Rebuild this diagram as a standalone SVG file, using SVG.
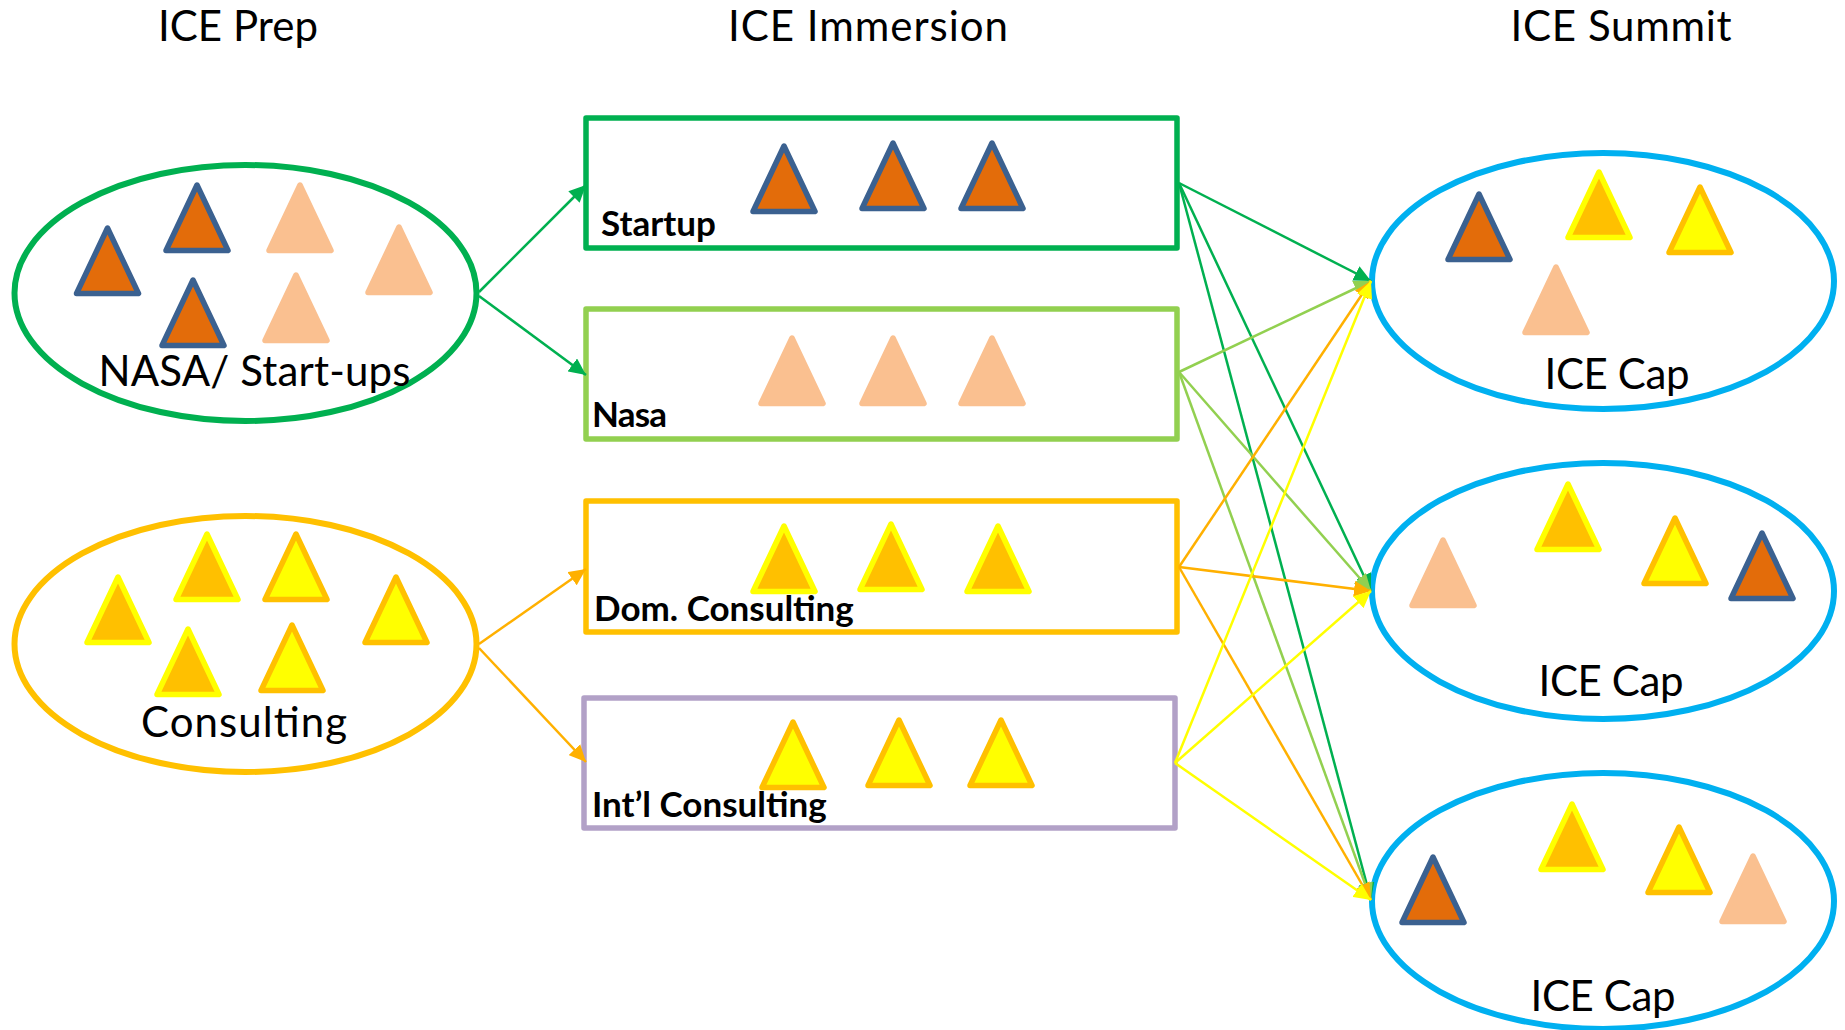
<svg xmlns="http://www.w3.org/2000/svg" width="1845" height="1030" viewBox="0 0 1845 1030">
<style>
text{font-family:Lato,"Open Sans",sans-serif;fill:#000}
.t{font-size:42px}.b{font-size:35px;font-weight:700}
.e{fill:#fff;stroke-width:6}.r{fill:#fff;stroke-width:5.5;stroke-linejoin:round}
.tri{stroke-width:5.5;stroke-linejoin:round}
.d{fill:#E36C0A;stroke:#3B6190}.p{fill:#FAC090;stroke:#FAC090}.yo{fill:#FFC000;stroke:#FFFF00}.oy{fill:#FFFF00;stroke:#FFC000}
.g1{stroke:#00B050;fill:none}.g2{stroke:#92D050;fill:none}.g3{stroke:#FFB000;fill:none}.g4{stroke:#FFFF00;fill:none}
#connectors line{stroke-width:2.5}
</style>
<defs>
<polygon id="tr" points="0,0 31,65.500 -31,65.500"/>
<marker id="m1" markerUnits="userSpaceOnUse" markerWidth="18" markerHeight="16" refX="17" refY="8" orient="auto"><path d="M0,0L17,8L0,16z" fill="#00B050"/></marker>
<marker id="m2" markerUnits="userSpaceOnUse" markerWidth="18" markerHeight="16" refX="17" refY="8" orient="auto"><path d="M0,0L17,8L0,16z" fill="#92D050"/></marker>
<marker id="m3" markerUnits="userSpaceOnUse" markerWidth="18" markerHeight="16" refX="17" refY="8" orient="auto"><path d="M0,0L17,8L0,16z" fill="#FFB000"/></marker>
<marker id="m4" markerUnits="userSpaceOnUse" markerWidth="18" markerHeight="16" refX="17" refY="8" orient="auto"><path d="M0,0L17,8L0,16z" fill="#FFFF00"/></marker>
</defs>
<rect width="1845" height="1030" fill="#fff"/>
<g id="titles">
<text class="t" x="238" y="41" text-anchor="middle" textLength="160">ICE Prep</text>
<text class="t" x="868" y="41" text-anchor="middle" textLength="280">ICE Immersion</text>
<text class="t" x="1621" y="41" text-anchor="middle" textLength="221">ICE Summit</text>
</g>
<g id="prep-nasa">
<ellipse class="e" cx="245.500" cy="293" rx="231" ry="128" stroke="#00B050"/>
<use href="#tr" x="107.500" y="228" class="tri d"/><use href="#tr" x="197" y="185" class="tri d"/><use href="#tr" x="193" y="280" class="tri d"/>
<use href="#tr" x="300" y="185" class="tri p"/><use href="#tr" x="399" y="227" class="tri p"/><use href="#tr" x="296" y="275" class="tri p"/>
<text class="t" x="254.500" y="386" text-anchor="middle" textLength="312">NASA/ Start-ups</text>
</g>
<g id="prep-consulting">
<ellipse class="e" cx="245.500" cy="644" rx="231" ry="128" stroke="#FFC000"/>
<use href="#tr" x="118" y="577" class="tri yo"/><use href="#tr" x="207" y="534" class="tri yo"/><use href="#tr" x="296" y="534" class="tri oy"/>
<use href="#tr" x="396" y="577" class="tri oy"/><use href="#tr" x="188" y="629" class="tri yo"/><use href="#tr" x="292" y="625" class="tri oy"/>
<text class="t" x="244" y="737" text-anchor="middle" textLength="206">Consulting</text>
</g>
<g id="box-startup">
<rect class="r" x="586" y="118" width="591" height="130" stroke="#00B050"/>
<use href="#tr" x="784" y="146" class="tri d"/><use href="#tr" x="893" y="143" class="tri d"/><use href="#tr" x="992" y="143" class="tri d"/>
<text class="b" x="601" y="236">Startup</text>
</g>
<g id="box-nasa">
<rect class="r" x="586" y="309" width="591" height="130" stroke="#92D050"/>
<use href="#tr" x="792" y="338" class="tri p"/><use href="#tr" x="893" y="338" class="tri p"/><use href="#tr" x="992" y="338" class="tri p"/>
<text class="b" x="592" y="427" textLength="75">Nasa</text>
</g>
<g id="box-dom">
<rect class="r" x="586" y="501" width="591" height="131" stroke="#FFC000"/>
<use href="#tr" x="784" y="526" class="tri yo"/><use href="#tr" x="891" y="524" class="tri yo"/><use href="#tr" x="998" y="526" class="tri yo"/>
<text class="b" x="594" y="621">Dom. Consulting</text>
</g>
<g id="box-intl">
<rect class="r" x="584" y="698" width="591" height="130" stroke="#B2A1C7"/>
<use href="#tr" x="793" y="722" class="tri oy"/><use href="#tr" x="899" y="720" class="tri oy"/><use href="#tr" x="1001" y="720" class="tri oy"/>
<text class="b" x="592" y="817">Int’l Consulting</text>
</g>
<g id="summit-1">
<ellipse class="e" cx="1603" cy="281" rx="231" ry="128" stroke="#00B0F0"/>
<use href="#tr" x="1479" y="194" class="tri d"/><use href="#tr" x="1599" y="172" class="tri yo"/><use href="#tr" x="1700" y="187" class="tri oy"/><use href="#tr" x="1556" y="267" class="tri p"/>
<text class="t" x="1617" y="389" text-anchor="middle" textLength="145">ICE Cap</text>
</g>
<g id="summit-2">
<ellipse class="e" cx="1603" cy="591" rx="231" ry="128" stroke="#00B0F0"/>
<use href="#tr" x="1443" y="540" class="tri p"/><use href="#tr" x="1568" y="484" class="tri yo"/><use href="#tr" x="1675" y="518" class="tri oy"/><use href="#tr" x="1762" y="533" class="tri d"/>
<text class="t" x="1611" y="696" text-anchor="middle" textLength="145">ICE Cap</text>
</g>
<g id="summit-3">
<ellipse class="e" cx="1603" cy="901" rx="231" ry="128" stroke="#00B0F0"/>
<use href="#tr" x="1433" y="857" class="tri d"/><use href="#tr" x="1572" y="804" class="tri yo"/><use href="#tr" x="1679" y="827" class="tri oy"/><use href="#tr" x="1753" y="856" class="tri p"/>
<text class="t" x="1603" y="1011" text-anchor="middle" textLength="145">ICE Cap</text>
</g>
<g id="connectors">
<line class="g1" x1="479" y1="292" x2="586" y2="185" marker-end="url(#m1)"/>
<line class="g1" x1="479" y1="296" x2="586" y2="375" marker-end="url(#m1)"/>
<line class="g3" x1="479" y1="644" x2="586" y2="569" marker-end="url(#m3)"/>
<line class="g3" x1="479" y1="648" x2="586" y2="762" marker-end="url(#m3)"/>
<line class="g1" x1="1179" y1="183" x2="1371" y2="281" marker-end="url(#m1)"/>
<line class="g1" x1="1179" y1="183" x2="1371" y2="591" marker-end="url(#m1)"/>
<line class="g1" x1="1179" y1="183" x2="1371" y2="900" marker-end="url(#m1)"/>
<line class="g2" x1="1179" y1="372" x2="1371" y2="281" marker-end="url(#m2)"/>
<line class="g2" x1="1179" y1="372" x2="1371" y2="591" marker-end="url(#m2)"/>
<line class="g2" x1="1179" y1="372" x2="1371" y2="900" marker-end="url(#m2)"/>
<line class="g3" x1="1179" y1="567" x2="1371" y2="281" marker-end="url(#m3)"/>
<line class="g3" x1="1179" y1="567" x2="1371" y2="591" marker-end="url(#m3)"/>
<line class="g3" x1="1179" y1="567" x2="1371" y2="900" marker-end="url(#m3)"/>
<line class="g4" x1="1175" y1="763" x2="1371" y2="281" marker-end="url(#m4)"/>
<line class="g4" x1="1175" y1="763" x2="1371" y2="591" marker-end="url(#m4)"/>
<line class="g4" x1="1175" y1="763" x2="1371" y2="900" marker-end="url(#m4)"/>
</g>
</svg>
